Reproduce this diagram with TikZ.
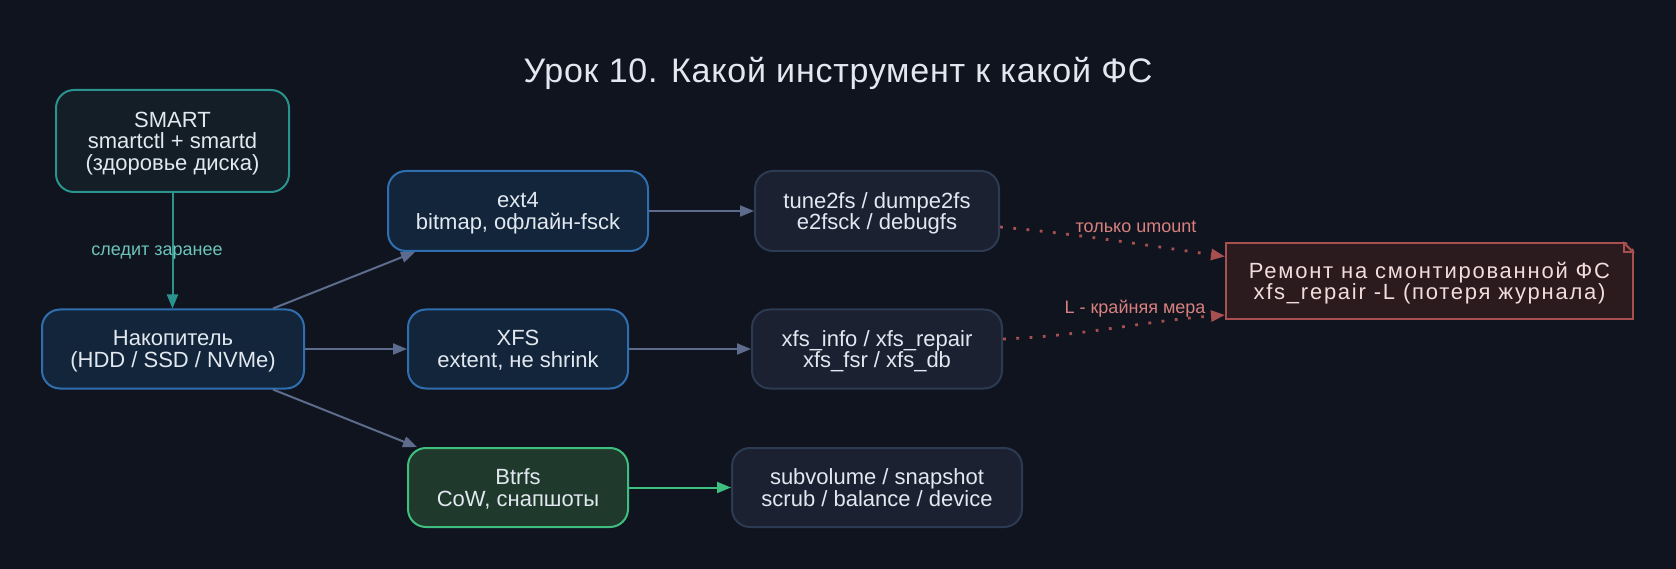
\documentclass[tikz,border=0pt]{standalone}
\usepackage{fontspec}
\setmainfont{Liberation Sans}
\usetikzlibrary{arrows.meta,calc}
\definecolor{bg}{HTML}{10141F}
\definecolor{txt}{HTML}{E2E8F0}
\definecolor{tealline}{HTML}{2A938E}
\definecolor{teallabel}{HTML}{6CC5BB}
\definecolor{smartfill}{HTML}{131E26}
\definecolor{bluefill}{HTML}{13253B}
\definecolor{blueline}{HTML}{2F6FB0}
\definecolor{greenfill}{HTML}{1F3A2C}
\definecolor{greenline}{HTML}{3FBF7F}
\definecolor{toolfill}{HTML}{1B2131}
\definecolor{toolline}{HTML}{2C3A52}
\definecolor{notefill}{HTML}{2B1B1E}
\definecolor{noteline}{HTML}{A84F4F}
\definecolor{notetext}{HTML}{F2DCDC}
\definecolor{redlabel}{HTML}{D9817F}
\definecolor{edgegray}{HTML}{5D6C8C}
\tikzset{
  box/.style={rounded corners=18pt, line width=2pt, align=center, inner sep=0pt,
    font=\fontsize{22}{21.5}\selectfont, text=txt, text depth=0pt},
  smartbox/.style={box, fill=smartfill, draw=tealline},
  bluebox/.style={box, fill=bluefill, draw=blueline},
  greenbox/.style={box, fill=greenfill, draw=greenline},
  toolbox/.style={box, fill=toolfill, draw=toolline},
  notebox/.style={line width=2pt, fill=notefill, draw=noteline, align=center, inner sep=0pt,
    font=\fontsize{22}{21.5}\selectfont\addfontfeature{LetterSpace=8}, text=notetext, text depth=0pt},
  tip/.style={-{Triangle[length=14pt,width=11pt]}},
  grayedge/.style={draw=edgegray, line width=2pt, tip},
  tealedge/.style={draw=tealline, line width=2pt, tip},
  greenedge/.style={draw=greenline, line width=2pt, tip},
  rededge/.style={draw=noteline, line width=2.8pt, dash pattern=on 2.8pt off 10.5pt,
    -{Triangle[length=14pt,width=11pt,fill=noteline]}},
  elabel/.style={font=\fontsize{18}{20}\selectfont, inner sep=1pt},
}
\begin{document}
\begin{tikzpicture}[x=1pt,y=-1pt]
\fill[bg] (0,0) rectangle (1676,569);
\useasboundingbox (0,0) rectangle (1676,569);

\node[font=\fontsize{34}{38}\selectfont\addfontfeature{LetterSpace=2.2}, text=txt, anchor=base] (title) at (838,83) {Урок 10. Какой инструмент к какой ФС};

\node[smartbox, minimum width=233pt, minimum height=102pt] (smart) at (172.5,141) {SMART\\smartctl + smartd\\(здоровье диска)};
\node[bluebox, minimum width=262pt, minimum height=79pt] (drive) at (173,349) {Накопитель\\(HDD / SSD / NVMe)};
\node[bluebox, minimum width=260pt, minimum height=80pt] (ext4) at (518,211) {ext4\\bitmap, офлайн-fsck};
\node[bluebox, minimum width=220pt, minimum height=79pt] (xfs) at (518,349) {XFS\\extent, не shrink};
\node[greenbox, minimum width=220pt, minimum height=79pt] (btrfs) at (518,487.5) {Btrfs\\CoW, снапшоты};
\node[toolbox, minimum width=244pt, minimum height=80pt] (tune) at (877,211) {tune2fs / dumpe2fs\\e2fsck / debugfs};
\node[toolbox, minimum width=250pt, minimum height=79pt] (xfsinfo) at (877,349) {xfs\_info / xfs\_repair\\xfs\_fsr / xfs\_db};
\node[toolbox, minimum width=290pt, minimum height=79pt] (subvol) at (877,487.5) {subvolume / snapshot\\scrub / balance / device};
\node[notebox, minimum width=407pt, minimum height=76pt] (note) at (1429.5,281) {Ремонт на смонтированной ФС\\xfs\_repair -L (потеря журнала)};
% folded corner
\fill[bg] ([xshift=-10pt,yshift=2pt]note.north east) -- ([xshift=2pt,yshift=2pt]note.north east) -- ([xshift=2pt,yshift=-10pt]note.north east) -- cycle;
\draw[noteline, line width=2pt] ([xshift=-11pt]note.north east) -- ([yshift=-11pt]note.north east);
\draw[noteline, line width=1.2pt] ([xshift=-10pt]note.north east) -- ([xshift=-10pt,yshift=-10pt]note.north east) -- ([yshift=-10pt]note.north east);

% edges
\draw[tealedge] (smart.south) -- (smart.south |- drive.north);
\node[elabel, text=teallabel] (lsmart) at (157,253) {следит заранее};
\draw[grayedge] ([xshift=100pt]drive.north) -- ([xshift=-103pt]ext4.south);
\draw[grayedge] (drive.east) -- (xfs.west);
\draw[grayedge] ([xshift=100pt]drive.south) -- ([xshift=-101pt]btrfs.north);
\draw[grayedge] (ext4.east) -- (tune.west);
\draw[grayedge] (xfs.east) -- (xfsinfo.west);
\draw[greenedge] (btrfs.east) -- (subvol.west);

\draw[rededge] ([yshift=-16pt]tune.east) .. controls +(70,6) and +(-70,-10) .. ([yshift=24.5pt]note.west);
\node[elabel, text=redlabel] (lumount) at (1136,227) {только umount};
\draw[rededge] ([yshift=10pt]xfsinfo.east) .. controls +(80,-3) and +(-80,6) .. ([yshift=-34pt]note.west);
\node[elabel, text=redlabel] (lmera) at (1135,309) {L - крайняя мера};
\end{tikzpicture}
\end{document}
